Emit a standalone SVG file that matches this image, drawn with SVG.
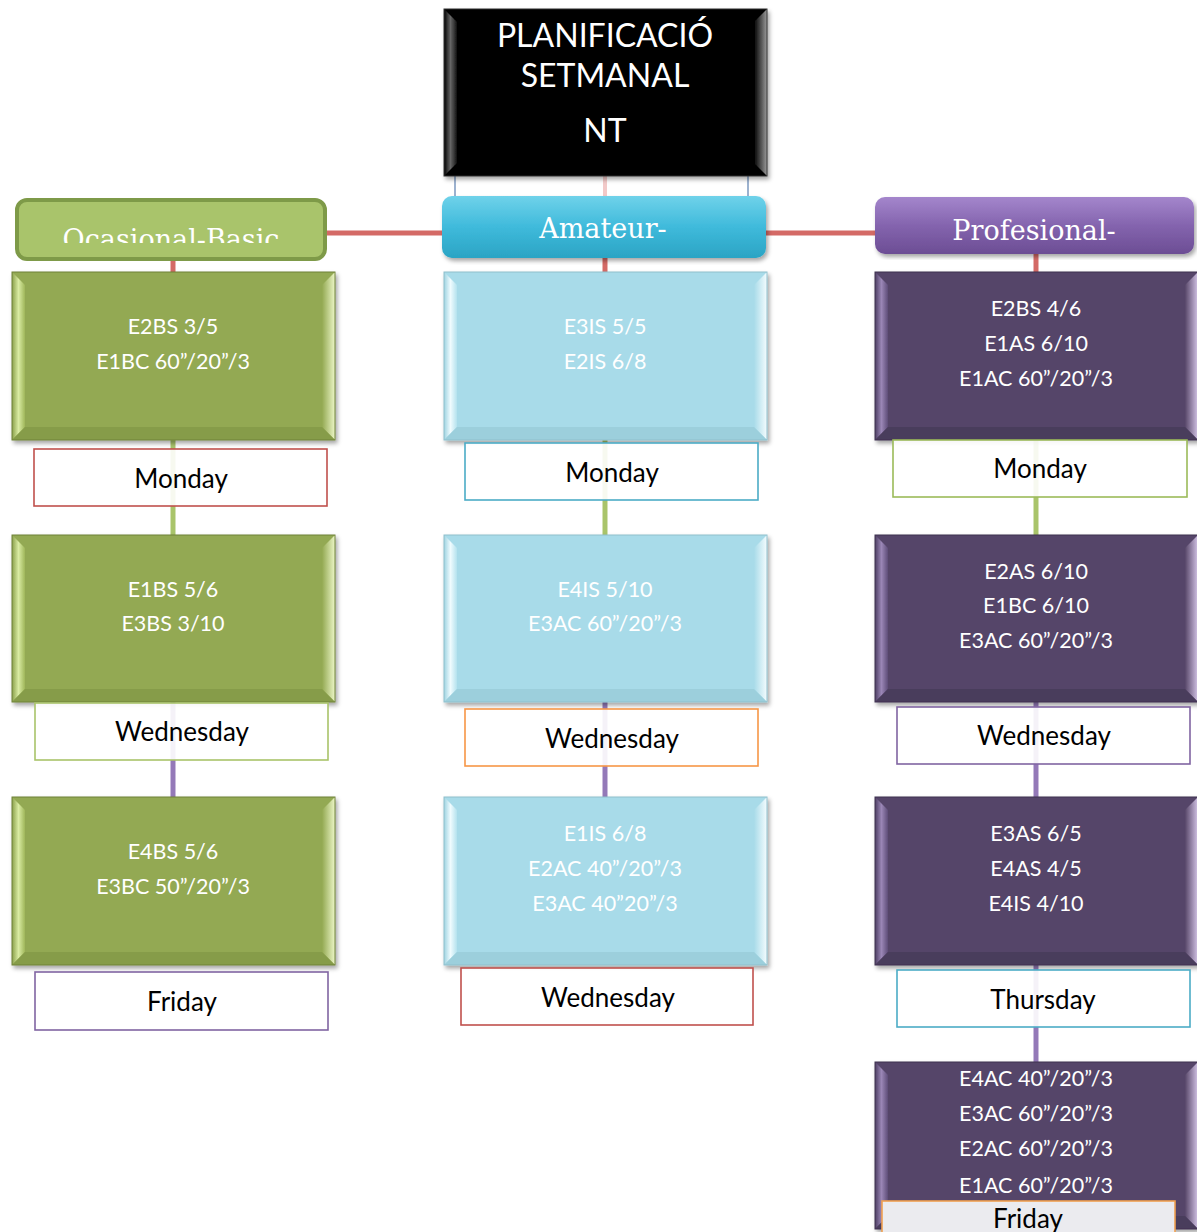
<svg xmlns="http://www.w3.org/2000/svg" width="1197" height="1232" viewBox="0 0 1197 1232">
<style>
.bt{font-family:Lato,"Open Sans","Liberation Sans",sans-serif;font-size:21.5px;fill:#ffffff;text-anchor:middle}
.dl{font-family:Lato,"Open Sans","Liberation Sans",sans-serif;font-size:26px;fill:#000000;text-anchor:middle}
.ht{font-family:"DejaVu Serif","Liberation Serif",serif;font-size:27px;fill:#ffffff;text-anchor:middle}
.tt{font-family:Lato,"Open Sans","Liberation Sans",sans-serif;font-size:32px;fill:#ffffff;text-anchor:middle}
.lab{fill:#ffffff;fill-opacity:0.9;stroke-width:1.6}
.con{fill:none;stroke-width:5}
</style>
<defs>
<filter id="sh" x="-5%" y="-5%" width="112%" height="115%"><feDropShadow dx="2" dy="3" stdDeviation="2" flood-color="#000" flood-opacity="0.35"/></filter>
<linearGradient id="gL" x1="0" y1="0" x2="1" y2="0"><stop offset="0" stop-color="#8aa04a"/><stop offset="0.5" stop-color="#d9eba2"/><stop offset="1" stop-color="#9fb65a"/></linearGradient>
<linearGradient id="gR" x1="0" y1="0" x2="1" y2="0"><stop offset="0" stop-color="#93a952"/><stop offset="1" stop-color="#ecf6c6"/></linearGradient>
<linearGradient id="cL" x1="0" y1="0" x2="1" y2="0"><stop offset="0" stop-color="#9ed3e1"/><stop offset="0.5" stop-color="#effbfe"/><stop offset="1" stop-color="#b4e2ee"/></linearGradient>
<linearGradient id="cR" x1="0" y1="0" x2="1" y2="0"><stop offset="0" stop-color="#a8dbe9"/><stop offset="1" stop-color="#f4fcfe"/></linearGradient>
<linearGradient id="pL" x1="0" y1="0" x2="1" y2="0"><stop offset="0" stop-color="#4e3f63"/><stop offset="0.5" stop-color="#9a86b6"/><stop offset="1" stop-color="#5e4d78"/></linearGradient>
<linearGradient id="pR" x1="0" y1="0" x2="1" y2="0"><stop offset="0" stop-color="#574669"/><stop offset="1" stop-color="#d3c4e6"/></linearGradient>
<linearGradient id="kL" x1="0" y1="0" x2="1" y2="0"><stop offset="0" stop-color="#000"/><stop offset="0.5" stop-color="#666"/><stop offset="1" stop-color="#111"/></linearGradient>
<linearGradient id="kR" x1="0" y1="0" x2="1" y2="0"><stop offset="0" stop-color="#000"/><stop offset="1" stop-color="#9a9a9a"/></linearGradient>
<linearGradient id="hA" x1="0" y1="0" x2="0" y2="1"><stop offset="0" stop-color="#6fd2ea"/><stop offset="0.5" stop-color="#3fbadb"/><stop offset="1" stop-color="#2aa4c4"/></linearGradient>
<linearGradient id="hP" x1="0" y1="0" x2="0" y2="1"><stop offset="0" stop-color="#a486cc"/><stop offset="0.5" stop-color="#8464ae"/><stop offset="1" stop-color="#6c4d94"/></linearGradient>
<clipPath id="clipO"><rect x="16" y="199" width="310" height="44"/></clipPath>
</defs>

<rect x="0" y="0" width="1197" height="1232" fill="#ffffff"/>

<g id="connectors">
<line class="con" x1="326" y1="233" x2="442" y2="233" stroke="#d46a66"/>
<line class="con" x1="766" y1="233" x2="875" y2="233" stroke="#d46a66"/>
<line class="con" x1="173" y1="258" x2="173" y2="274" stroke="#d46a66"/>
<line class="con" x1="605" y1="256" x2="605" y2="274" stroke="#d46a66"/>
<line class="con" x1="1036" y1="252" x2="1036" y2="274" stroke="#d46a66"/>
<line class="con" x1="173" y1="440" x2="173" y2="537" stroke="#a9c46a"/>
<line class="con" x1="605" y1="440" x2="605" y2="537" stroke="#a9c46a"/>
<line class="con" x1="1036" y1="440" x2="1036" y2="537" stroke="#a9c46a"/>
<line class="con" x1="173" y1="702" x2="173" y2="799" stroke="#9479b8"/>
<line class="con" x1="605" y1="702" x2="605" y2="799" stroke="#9479b8"/>
<line class="con" x1="1036" y1="702" x2="1036" y2="799" stroke="#9479b8"/>
<line class="con" x1="1036" y1="965" x2="1036" y2="1064" stroke="#9479b8"/>
</g>

<g id="title">
<rect x="455" y="172" width="293" height="26" fill="#ffffff" stroke="#5b7fb0" stroke-width="1.2"/>
<line x1="605" y1="176" x2="605" y2="196" stroke="#f2c9c8" stroke-width="4"/>
<g filter="url(#sh)">
<rect x="444" y="9" width="323" height="167" fill="#000"/>
<polygon points="444,9 457,22 457,163 444,176" fill="url(#kL)"/>
<polygon points="767,9 754,22 754,163 767,176" fill="url(#kR)"/>
<rect x="444" y="9" width="323" height="167" fill="none" stroke="#333" stroke-width="1"/>
</g>
<text class="tt" x="605" y="47">PLANIFICACIÓ</text>
<text class="tt" x="605" y="87">SETMANAL</text>
<text class="tt" x="605" y="142">NT</text>
</g>

<g id="hdr-ocasional">
<rect x="17" y="200" width="308" height="59" rx="10" fill="#a9c46b" stroke="#7e9a48" stroke-width="4"/>
<text class="ht" x="171" y="249" clip-path="url(#clipO)">Ocasional-Basic</text>
</g>
<g id="hdr-amateur">
<rect x="442" y="196" width="324" height="62" rx="10" fill="url(#hA)" filter="url(#sh)"/>
<text class="ht" x="603" y="238">Amateur-</text>
</g>
<g id="hdr-profesional">
<rect x="875" y="197" width="319" height="57" rx="10" fill="url(#hP)" filter="url(#sh)"/>
<text class="ht" x="1034" y="240">Profesional-</text>
</g>

<!-- Left column (green) -->
<g id="g1">
<g filter="url(#sh)"><rect x="12" y="272" width="323" height="168" fill="#93a952"/>
<polygon points="12,272 25,285 25,427 12,440" fill="url(#gL)"/><polygon points="335,272 322,285 322,427 335,440" fill="url(#gR)"/>
<polygon points="12,440 25,427 322,427 335,440" fill="#869c48"/>
<rect x="12" y="272" width="323" height="168" fill="none" stroke="#6f8238" stroke-width="1"/></g>
<text class="bt" x="173" y="334">E2BS 3/5</text>
<text class="bt" x="173" y="369">E1BC 60”/20”/3</text>
</g>
<g id="g2">
<g filter="url(#sh)"><rect x="12" y="535" width="323" height="167" fill="#93a952"/>
<polygon points="12,535 25,548 25,689 12,702" fill="url(#gL)"/><polygon points="335,535 322,548 322,689 335,702" fill="url(#gR)"/>
<polygon points="12,702 25,689 322,689 335,702" fill="#869c48"/>
<rect x="12" y="535" width="323" height="167" fill="none" stroke="#6f8238" stroke-width="1"/></g>
<text class="bt" x="173" y="597">E1BS 5/6</text>
<text class="bt" x="173" y="631">E3BS 3/10</text>
</g>
<g id="g3">
<g filter="url(#sh)"><rect x="12" y="797" width="323" height="168" fill="#93a952"/>
<polygon points="12,797 25,810 25,952 12,965" fill="url(#gL)"/><polygon points="335,797 322,810 322,952 335,965" fill="url(#gR)"/>
<polygon points="12,965 25,952 322,952 335,965" fill="#869c48"/>
<rect x="12" y="797" width="323" height="168" fill="none" stroke="#6f8238" stroke-width="1"/></g>
<text class="bt" x="173" y="859">E4BS 5/6</text>
<text class="bt" x="173" y="894">E3BC 50”/20”/3</text>
</g>
<g id="gd1"><rect class="lab" x="34" y="449" width="293" height="57" stroke="#c0504d"/><text class="dl" x="181" y="488">Monday</text></g>
<g id="gd2"><rect class="lab" x="35" y="703" width="293" height="57" stroke="#a9c46a"/><text class="dl" x="182" y="741">Wednesday</text></g>
<g id="gd3"><rect class="lab" x="35" y="972" width="293" height="58" stroke="#8064a2"/><text class="dl" x="182" y="1011">Friday</text></g>

<!-- Middle column (cyan) -->
<g id="c1">
<g filter="url(#sh)"><rect x="444" y="272" width="323" height="168" fill="#a8dbe9"/>
<polygon points="444,272 457,285 457,427 444,440" fill="url(#cL)"/><polygon points="767,272 754,285 754,427 767,440" fill="url(#cR)"/>
<polygon points="444,440 457,427 754,427 767,440" fill="#9ccfdc"/>
<rect x="444" y="272" width="323" height="168" fill="none" stroke="#8fbfcc" stroke-width="1"/></g>
<text class="bt" x="605" y="334">E3IS 5/5</text>
<text class="bt" x="605" y="369">E2IS 6/8</text>
</g>
<g id="c2">
<g filter="url(#sh)"><rect x="444" y="535" width="323" height="167" fill="#a8dbe9"/>
<polygon points="444,535 457,548 457,689 444,702" fill="url(#cL)"/><polygon points="767,535 754,548 754,689 767,702" fill="url(#cR)"/>
<polygon points="444,702 457,689 754,689 767,702" fill="#9ccfdc"/>
<rect x="444" y="535" width="323" height="167" fill="none" stroke="#8fbfcc" stroke-width="1"/></g>
<text class="bt" x="605" y="597">E4IS 5/10</text>
<text class="bt" x="605" y="631">E3AC 60”/20”/3</text>
</g>
<g id="c3">
<g filter="url(#sh)"><rect x="444" y="797" width="323" height="168" fill="#a8dbe9"/>
<polygon points="444,797 457,810 457,952 444,965" fill="url(#cL)"/><polygon points="767,797 754,810 754,952 767,965" fill="url(#cR)"/>
<polygon points="444,965 457,952 754,952 767,965" fill="#9ccfdc"/>
<rect x="444" y="797" width="323" height="168" fill="none" stroke="#8fbfcc" stroke-width="1"/></g>
<text class="bt" x="605" y="841">E1IS 6/8</text>
<text class="bt" x="605" y="876">E2AC 40”/20”/3</text>
<text class="bt" x="605" y="911">E3AC 40”20”/3</text>
</g>
<g id="cd1"><rect class="lab" x="465" y="443" width="293" height="57" stroke="#4bacc6"/><text class="dl" x="612" y="482">Monday</text></g>
<g id="cd2"><rect class="lab" x="465" y="709" width="293" height="57" stroke="#f79646"/><text class="dl" x="612" y="748">Wednesday</text></g>
<g id="cd3"><rect class="lab" x="461" y="968" width="292" height="57" stroke="#c0504d"/><text class="dl" x="608" y="1007">Wednesday</text></g>

<!-- Right column (purple) -->
<g id="p1">
<g filter="url(#sh)"><rect x="875" y="272" width="323" height="168" fill="#554569"/>
<polygon points="875,272 888,285 888,427 875,440" fill="url(#pL)"/><polygon points="1198,272 1185,285 1185,427 1198,440" fill="url(#pR)"/>
<polygon points="875,440 888,427 1185,427 1198,440" fill="#4a3c5c"/>
<rect x="875" y="272" width="323" height="168" fill="none" stroke="#3e3150" stroke-width="1"/></g>
<text class="bt" x="1036" y="316">E2BS 4/6</text>
<text class="bt" x="1036" y="351">E1AS 6/10</text>
<text class="bt" x="1036" y="386">E1AC 60”/20”/3</text>
</g>
<g id="p2">
<g filter="url(#sh)"><rect x="875" y="535" width="323" height="167" fill="#554569"/>
<polygon points="875,535 888,548 888,689 875,702" fill="url(#pL)"/><polygon points="1198,535 1185,548 1185,689 1198,702" fill="url(#pR)"/>
<polygon points="875,702 888,689 1185,689 1198,702" fill="#4a3c5c"/>
<rect x="875" y="535" width="323" height="167" fill="none" stroke="#3e3150" stroke-width="1"/></g>
<text class="bt" x="1036" y="579">E2AS 6/10</text>
<text class="bt" x="1036" y="613">E1BC 6/10</text>
<text class="bt" x="1036" y="648">E3AC 60”/20”/3</text>
</g>
<g id="p3">
<g filter="url(#sh)"><rect x="875" y="797" width="323" height="168" fill="#554569"/>
<polygon points="875,797 888,810 888,952 875,965" fill="url(#pL)"/><polygon points="1198,797 1185,810 1185,952 1198,965" fill="url(#pR)"/>
<polygon points="875,965 888,952 1185,952 1198,965" fill="#4a3c5c"/>
<rect x="875" y="797" width="323" height="168" fill="none" stroke="#3e3150" stroke-width="1"/></g>
<text class="bt" x="1036" y="841">E3AS 6/5</text>
<text class="bt" x="1036" y="876">E4AS 4/5</text>
<text class="bt" x="1036" y="911">E4IS 4/10</text>
</g>
<g id="p4">
<g filter="url(#sh)"><rect x="875" y="1062" width="323" height="167" fill="#554569"/>
<polygon points="875,1062 888,1075 888,1216 875,1229" fill="url(#pL)"/><polygon points="1198,1062 1185,1075 1185,1216 1198,1229" fill="url(#pR)"/>
<polygon points="875,1229 888,1216 1185,1216 1198,1229" fill="#4a3c5c"/>
<rect x="875" y="1062" width="323" height="167" fill="none" stroke="#3e3150" stroke-width="1"/></g>
<text class="bt" x="1036" y="1086">E4AC 40”/20”/3</text>
<text class="bt" x="1036" y="1121">E3AC 60”/20”/3</text>
<text class="bt" x="1036" y="1156">E2AC 60”/20”/3</text>
<text class="bt" x="1036" y="1193">E1AC 60”/20”/3</text>
</g>
<g id="pd1"><rect class="lab" x="893" y="440" width="294" height="57" stroke="#9bbb59"/><text class="dl" x="1040" y="478">Monday</text></g>
<g id="pd2"><rect class="lab" x="897" y="707" width="293" height="57" stroke="#8064a2"/><text class="dl" x="1044" y="745">Wednesday</text></g>
<g id="pd3"><rect class="lab" x="897" y="970" width="293" height="57" stroke="#4bacc6"/><text class="dl" x="1043" y="1009">Thursday</text></g>
<g id="pd4"><rect x="882" y="1201" width="293" height="40" fill="#ebebef" stroke="#f0a050" stroke-width="1.6"/><text class="dl" x="1028" y="1228">Friday</text></g>
</svg>
